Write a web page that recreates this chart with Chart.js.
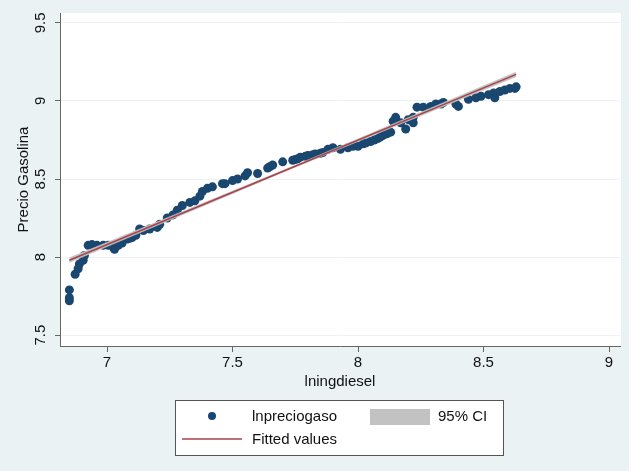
<!DOCTYPE html>
<html>
<head>
<meta charset="utf-8">
<script src="https://cdn.jsdelivr.net/npm/chart.js@4.4.1/dist/chart.umd.min.js"></script>
<style>
  body { margin: 0; background: #ffffff; }
  .wrap { width: 636px; height: 471px; position: relative; }
</style>
</head>
<body>
<div class="wrap"><canvas id="my_chart"></canvas></div>
<script>
// lningdiesel (x) vs lnpreciogaso (y)
let diesel = [6.85, 6.85, 6.85, 6.873, 6.885, 6.89, 6.905, 6.91, 6.925, 6.94, 6.96, 6.985, 7.005, 7.025, 7.03, 7.045, 7.06, 7.08, 7.09, 7.10,
    7.115, 7.13, 7.145, 7.17, 7.20, 7.21, 7.24, 7.263, 7.28, 7.30, 7.33, 7.35, 7.37, 7.38, 7.40, 7.42, 7.46, 7.47, 7.50, 7.52,
    7.55, 7.56, 7.60, 7.64, 7.65, 7.66, 7.70, 7.74, 7.75, 7.76, 7.77, 7.79, 7.80, 7.82, 7.83, 7.85, 7.86, 7.88, 7.90, 7.93,
    7.96, 7.98, 7.99, 8.00, 8.02, 8.03, 8.05, 8.065, 8.08, 8.09, 8.10, 8.115, 8.13, 8.14, 8.15, 8.17, 8.19, 8.20, 8.22, 8.22,
    8.235, 8.26, 8.29, 8.31, 8.33, 8.34, 8.39, 8.40, 8.44, 8.47, 8.49, 8.52, 8.54, 8.545, 8.565, 8.585, 8.605, 8.625, 8.63]
let gasolina = [7.72, 7.74, 7.79, 7.89, 7.925, 7.956, 7.98, 8.01, 8.075, 8.08, 8.075, 8.075, 8.075, 8.063, 8.05, 8.075, 8.09, 8.115, 8.12, 8.125,
    8.14, 8.18, 8.17, 8.18, 8.19, 8.21, 8.25, 8.27, 8.30, 8.33, 8.35, 8.36, 8.39, 8.42, 8.44, 8.45, 8.47, 8.47, 8.49, 8.50,
    8.52, 8.54, 8.535, 8.57, 8.58, 8.59, 8.61, 8.62, 8.625, 8.63, 8.64, 8.645, 8.65, 8.655, 8.66, 8.665, 8.67, 8.69, 8.70, 8.69,
    8.70, 8.71, 8.715, 8.71, 8.725, 8.73, 8.74, 8.75, 8.76, 8.77, 8.78, 8.79, 8.80, 8.87, 8.895, 8.86, 8.82, 8.88, 8.86, 8.895,
    8.96, 8.96, 8.965, 8.98, 8.98, 8.99, 8.98, 8.965, 9.01, 9.02, 9.03, 9.04, 9.05, 9.02, 9.06, 9.07, 9.08, 9.08, 9.09]

// fitted line and 95% CI band
let fit_x = [6.85, 7.74, 8.63]
let fit_y = [7.98, 8.575, 9.17]
let ci_low = [7.965, 8.569, 9.155]
let ci_high = [7.995, 8.581, 9.185]

let x_ticks = [7, 7.5, 8, 8.5, 9]
let y_ticks = [7.5, 8, 8.5, 9, 9.5]

let bg_color = "#eaf2f3"
let navy = "#1a476f"
let maroon = "#a8434b"
let ci_gray = "#c2c2c2"
let font_name = "'Liberation Sans', Arial, Helvetica, sans-serif"

function to_points(xs, ys) {
    let result = []
    for (let i = 0; i < xs.length; i++) {
        result.push({ x: xs[i], y: ys[i] })
    }
    return result
}

// background: light bluish frame, white plot region
const background_plugin = {
    id: "background_plugin",
    beforeDraw(chart) {
        let ctx = chart.ctx
        let a = chart.chartArea
        ctx.save()
        ctx.fillStyle = "#ffffff"
        ctx.fillRect(0, 0, chart.width, chart.height)
        ctx.fillStyle = bg_color
        ctx.fillRect(0, 0, 629, chart.height)
        ctx.fillStyle = "#ffffff"
        ctx.fillRect(a.left, a.top, 621 - a.left, a.bottom - a.top)
        ctx.restore()
    }
}

// Stata style legend box under the axis
const legend_plugin = {
    id: "legend_plugin",
    afterDraw(chart) {
        let ctx = chart.ctx
        ctx.save()
        ctx.fillStyle = "#ffffff"
        ctx.fillRect(175, 400, 329, 56)
        ctx.strokeStyle = "#555555"
        ctx.lineWidth = 1
        ctx.strokeRect(175.5, 400.5, 328, 55)

        ctx.fillStyle = navy
        ctx.beginPath()
        ctx.arc(212, 416, 4, 0, Math.PI * 2)
        ctx.fill()

        ctx.fillStyle = ci_gray
        ctx.fillRect(370, 409, 60, 16)

        ctx.strokeStyle = maroon
        ctx.lineWidth = 1.5
        ctx.beginPath()
        ctx.moveTo(182, 439)
        ctx.lineTo(242, 439)
        ctx.stroke()

        ctx.fillStyle = "#111111"
        ctx.font = "15px " + font_name
        ctx.textBaseline = "middle"
        ctx.textAlign = "left"
        ctx.fillText("lnpreciogaso", 252, 417)
        ctx.fillText("95% CI", 438, 417)
        ctx.fillText("Fitted values", 252, 440)
        ctx.restore()
    }
}

let my_chart = document.querySelector("#my_chart")

var scatterChart = new Chart(my_chart, {
    type: "scatter",
    data: {
        datasets: [{
            label: "lnpreciogaso",
            data: to_points(diesel, gasolina),
            backgroundColor: navy,
            borderColor: navy,
            pointRadius: 4.5,
            pointBorderWidth: 0,
            order: 3
        }, {
            label: "ci_high",
            type: "line",
            data: to_points(fit_x, ci_high),
            borderColor: ci_gray,
            borderWidth: 0.5,
            backgroundColor: ci_gray,
            pointRadius: 0,
            fill: "+1",
            order: 2
        }, {
            label: "ci_low",
            type: "line",
            data: to_points(fit_x, ci_low),
            borderColor: ci_gray,
            borderWidth: 0.5,
            pointRadius: 0,
            fill: false,
            order: 2
        }, {
            label: "Fitted values",
            type: "line",
            data: to_points(fit_x, fit_y),
            borderColor: maroon,
            borderWidth: 1.5,
            pointRadius: 0,
            fill: false,
            order: 1
        }]
    },
    options: {
        responsive: true,
        maintainAspectRatio: false,
        animation: false,
        layout: { padding: { left: 0, top: 8, right: 16, bottom: 80 } },
        plugins: {
            legend: { display: false },
            tooltip: { enabled: false }
        },
        scales: {
            x: {
                type: "linear",
                min: 6.8127,
                max: 9.0438,
                afterFit: (scale) => { scale.height = 45 },
                afterBuildTicks: (scale) => { scale.ticks = x_ticks.map(v => ({ value: v })) },
                border: { color: "#666666", width: 1 },
                grid: { drawOnChartArea: false, drawTicks: true, tickLength: 6, tickColor: "#666666" },
                ticks: {
                    color: "#111111",
                    font: { family: font_name, size: 15 },
                    padding: 2,
                    maxRotation: 0,
                    callback: (v) => String(v)
                },
                title: {
                    display: true,
                    text: "lningdiesel",
                    color: "#111111",
                    font: { family: font_name, size: 15 },
                    padding: 0
                }
            },
            y: {
                type: "linear",
                min: 7.4306,
                max: 9.563,
                afterFit: (scale) => { scale.width = 60 },
                afterBuildTicks: (scale) => { scale.ticks = y_ticks.map(v => ({ value: v })) },
                border: { color: "#666666", width: 1 },
                grid: { color: bg_color, lineWidth: 1, drawTicks: true, tickLength: 5, tickColor: "#666666" },
                ticks: {
                    color: "#111111",
                    font: { family: font_name, size: 15 },
                    padding: 4,
                    minRotation: 90,
                    maxRotation: 90,
                    crossAlign: "center",
                    callback: (v) => String(v)
                },
                title: {
                    display: true,
                    text: "Precio Gasolina",
                    color: "#111111",
                    font: { family: font_name, size: 15 },
                    padding: { top: 15, bottom: 0 }
                }
            }
        }
    },
    plugins: [background_plugin, legend_plugin]
});
</script>
</body>
</html>
